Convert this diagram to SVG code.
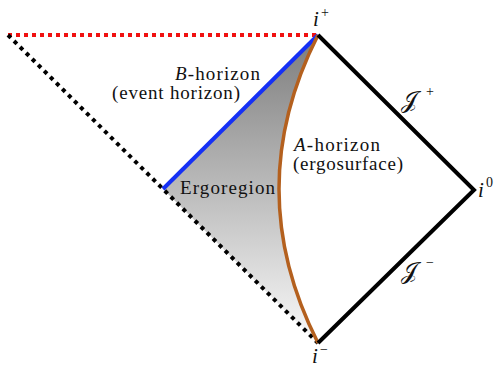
<svg xmlns="http://www.w3.org/2000/svg" width="500" height="371" viewBox="0 0 500 371">
<defs>
<linearGradient id="ergoGrad" gradientUnits="userSpaceOnUse" x1="0" y1="35" x2="0" y2="343">
<stop offset="0" stop-color="#7c7c7c"/>
<stop offset="1" stop-color="#fafafa"/>
</linearGradient>
<style>
text{font-family:"Liberation Serif","DejaVu Serif",serif;fill:#111;}
.lbl{font-size:19px;}
.pt{font-size:21px;font-style:italic;}
.scri{font-size:24px;}
.it{font-style:italic;}
.sup{font-size:14px;}
.solid{fill:none;stroke:#000;stroke-width:4;stroke-linejoin:miter;}
.dotk{fill:none;stroke:#000;stroke-width:4;stroke-dasharray:4 4.5;}
.dotr{fill:none;stroke:#f01010;stroke-width:4;stroke-dasharray:4 4;}
</style>
</defs>
<rect width="500" height="371" fill="#fff"/>
<g id="ergoregion">
<path d="M318,35 L163,189 L318,343 Q240,189 318,35 Z" fill="url(#ergoGrad)"/>
<text class="lbl" x="180" y="194" textLength="95">Ergoregion</text>
</g>
<g id="connectors">
<path class="dotr" d="M8,35 L318,35"/>
<path class="dotk" d="M8,35 L318,343"/>
<path d="M163,189 L318,35" fill="none" stroke="#1530f5" stroke-width="4"/>
<path d="M318,35 Q240,189 318,343" fill="none" stroke="#b4601e" stroke-width="3.5"/>
<path class="solid" d="M318,35 L474,190 L318,343"/>
</g>
<g id="b-horizon">
<text class="lbl" x="175" y="80" textLength="85"><tspan class="it">B</tspan>-horizon</text>
<text class="lbl" x="112" y="99" textLength="128">(event horizon)</text>
</g>
<g id="a-horizon">
<text class="lbl" x="294" y="151" textLength="86"><tspan class="it">A</tspan>-horizon</text>
<text class="lbl" x="293" y="170" textLength="110">(ergosurface)</text>
</g>
<g id="i-plus">
<text class="pt" x="313" y="26">i</text>
<text class="sup" x="321" y="17">+</text>
</g>
<g id="i-zero">
<text class="pt" x="478" y="197">i</text>
<text class="sup" x="486" y="187">0</text>
</g>
<g id="i-minus">
<text class="pt" x="312" y="363">i</text>
<text class="sup" x="320" y="354">−</text>
</g>
<g id="scri-plus">
<text class="scri" x="401" y="108">𝒥</text>
<text class="sup" x="426" y="96">+</text>
</g>
<g id="scri-minus">
<text class="scri" x="401" y="279">𝒥</text>
<text class="sup" x="426" y="267">−</text>
</g>
</svg>
